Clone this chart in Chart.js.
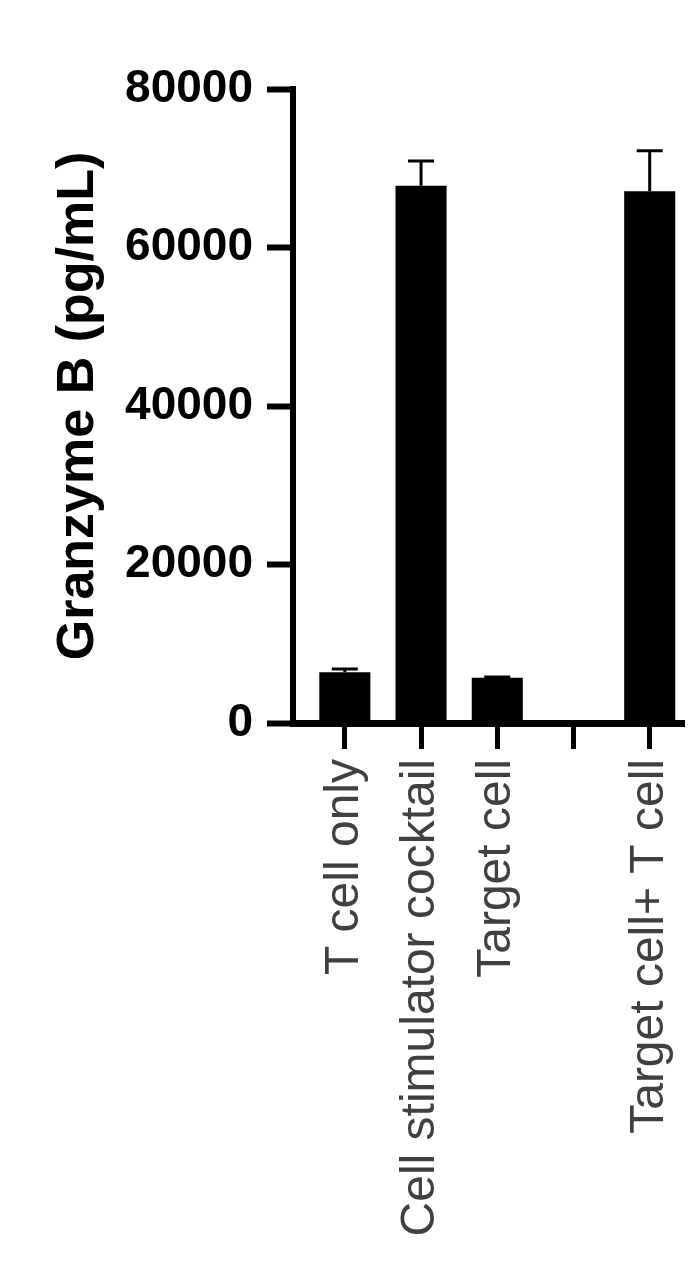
<!DOCTYPE html>
<html>
<head>
<meta charset="utf-8">
<script src="https://cdn.jsdelivr.net/npm/chart.js@4.4.1/dist/chart.umd.min.js"></script>
<style>
  html, body { margin: 0; padding: 0; background: #fff; }
  #wrap { width: 696px; height: 1269px; position: relative; }
</style>
</head>
<body>
<div id="wrap"><canvas id="chart"></canvas></div>
<script>
// Granzyme B release per condition (mean + upper SD bar)
const categories = ['T cell only', 'Cell stimulator cocktail', 'Target cell', '', 'Target cell+ T cell'];
const positions = [1, 2, 3, 4, 5];
const means = [6400, 67800, 5700, null, 67100];
const errors = [400, 3100, 100, null, 5100];
const yTicks = [0, 20000, 40000, 60000, 80000];

const FONT = "'Liberation Sans', Arial, Helvetica, sans-serif";

// upward-only error bars with a cap
const errorBars = {
  id: 'errorBars',
  afterDatasetsDraw(chart) {
    const { ctx, scales: { x, y } } = chart;
    ctx.save();
    ctx.strokeStyle = '#000';
    ctx.lineWidth = 3;
    means.forEach((m, i) => {
      if (m == null) return;
      const px = x.getPixelForValue(positions[i]);
      const yBar = y.getPixelForValue(m);
      const yTop = y.getPixelForValue(m + errors[i]);
      ctx.beginPath();
      ctx.moveTo(px, yBar);
      ctx.lineTo(px, yTop);
      ctx.moveTo(px - 13, yTop);
      ctx.lineTo(px + 13, yTop);
      ctx.stroke();
    });
    ctx.restore();
  }
};

new Chart(document.getElementById('chart'), {
  type: 'bar',
  data: {
    datasets: [{
      data: positions.map((p, i) => ({ x: p, y: means[i] })),
      backgroundColor: '#000',
      borderWidth: 0,
      categoryPercentage: 1,
      barPercentage: 0.67
    }]
  },
  options: {
    responsive: true,
    maintainAspectRatio: false,
    animation: false,
    layout: { padding: { left: 47, right: 12, top: 89, bottom: 0 } },
    plugins: { legend: { display: false }, tooltip: { enabled: false } },
    scales: {
      x: {
        type: 'linear',
        offset: false,
        min: 0.32,
        max: 5.45,
        afterBuildTicks: s => { s.ticks = positions.map(v => ({ value: v })); },
        afterFit: s => { s.height = 1269 - 723; s.paddingLeft = 0; s.paddingRight = 0; },
        grid: { offset: false, drawOnChartArea: false, drawTicks: true, tickLength: 26, tickWidth: 5, tickColor: '#000' },
        border: { color: '#000', width: 7 },
        ticks: {
          autoSkip: false,
          minRotation: 90,
          maxRotation: 90,
          padding: 10,
          color: '#404040',
          font: { family: FONT, size: 48 },
          callback: v => categories[positions.indexOf(v)] ?? ''
        }
      },
      y: {
        min: 0,
        max: 80000,
        afterBuildTicks: s => { s.ticks = yTicks.map(v => ({ value: v })); },
        afterFit: s => { s.width = 293 - 47; },
        grid: { drawOnChartArea: false, drawTicks: true, tickLength: 26, tickWidth: 6, tickColor: '#000' },
        border: { color: '#000', width: 6 },
        ticks: {
          padding: 14,
          color: '#000',
          font: { family: FONT, size: 46, weight: 'bold' },
          callback: v => String(v)
        },
        title: {
          display: true,
          text: 'Granzyme B (pg/mL)',
          color: '#000',
          padding: 0,
          font: { family: FONT, size: 52, weight: 'bold' }
        }
      }
    }
  },
  plugins: [errorBars]
});
</script>
</body>
</html>
